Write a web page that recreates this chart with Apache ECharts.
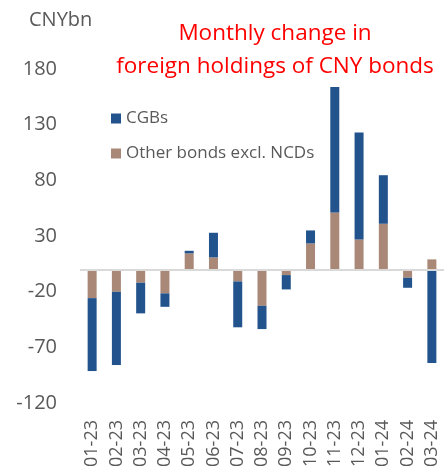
<!DOCTYPE html>
<html>
<head>
<meta charset="utf-8">
<script src="https://cdn.jsdelivr.net/npm/echarts@6/dist/echarts.min.js"></script>
<style>html,body{margin:0;padding:0;background:#fff;}</style>
</head>
<body>
<div id="e-charts" style="width:448px;height:475px;"></div>
<script type="text/javascript">
// data
var months = ['01-23','02-23','03-23','04-23','05-23','06-23','07-23','08-23','09-23','10-23','11-23','12-23','01-24','02-24','03-24'];
var cgbs = [-65.5, -65.8, -27.5, -12.1, 2.3, 22.1, -41.2, -20.9, -12.9, 11.7, 112.7, 96.1, 43.6, -9, -84.1];
var otherBonds = [-25.8, -20.1, -12, -21.5, 14.4, 10.8, -10.8, -32.7, -5.1, 23.3, 51.2, 26.9, 41, -7.5, 9];
var yTicks = [-120, -70, -20, 30, 80, 130, 180];

var myChart = echarts.init(document.getElementById('e-charts'));
var txtColor = '#595959';
var font = 'Open Sans';

var option = {
  backgroundColor: '#fff',
  animation: false,
  title: {
    text: 'Monthly change in\nforeign holdings of CNY bonds',
    left: 270,
    top: 12,
    textAlign: 'center',
    textStyle: {
      color: '#ff0000',
      fontSize: 22.5,
      fontWeight: 'normal',
      fontFamily: font,
      lineHeight: 33
    }
  },
  graphic: [{
    type: 'text',
    left: 29,
    top: 10,
    style: {text: 'CNYbn', fill: txtColor, fontSize: 20, fontFamily: font}
  }],
  legend: {
    orient: 'vertical',
    left: 106,
    top: 105,
    itemWidth: 10,
    itemHeight: 10,
    itemGap: 18,
    icon: 'rect',
    data: ['CGBs', 'Other bonds excl. NCDs'],
    textStyle: {color: txtColor, fontSize: 17, fontFamily: font}
  },
  grid: {left: 80, right: 4, top: 69, bottom: 72},
  xAxis: {
    type: 'category',
    data: months,
    axisLine: {show: false, onZero: false},
    axisTick: {show: false},
    axisLabel: {
      rotate: 90,
      interval: 0,
      margin: 17,
      color: txtColor,
      fontSize: 18,
      fontFamily: font
    }
  },
  yAxis: {
    type: 'value',
    min: -120,
    max: 180,
    splitLine: {show: false},
    axisLine: {show: false},
    axisTick: {show: false},
    axisLabel: {
      customValues: yTicks,
      margin: 23,
      color: txtColor,
      fontSize: 20,
      fontFamily: font
    }
  },
  series: [
    {
      name: 'Other bonds excl. NCDs',
      type: 'bar',
      stack: 'total',
      barWidth: 9,
      data: otherBonds,
      itemStyle: {color: '#a98878'},
      markLine: {
        silent: true,
        symbol: 'none',
        label: {show: false},
        lineStyle: {color: '#d9d9d9', type: 'solid', width: 2},
        data: [{yAxis: 0}]
      }
    },
    {
      name: 'CGBs',
      type: 'bar',
      stack: 'total',
      barWidth: 9,
      data: cgbs,
      itemStyle: {color: '#22538c'}
    }
  ]
};

myChart.setOption(option);
</script>
</body>
</html>
